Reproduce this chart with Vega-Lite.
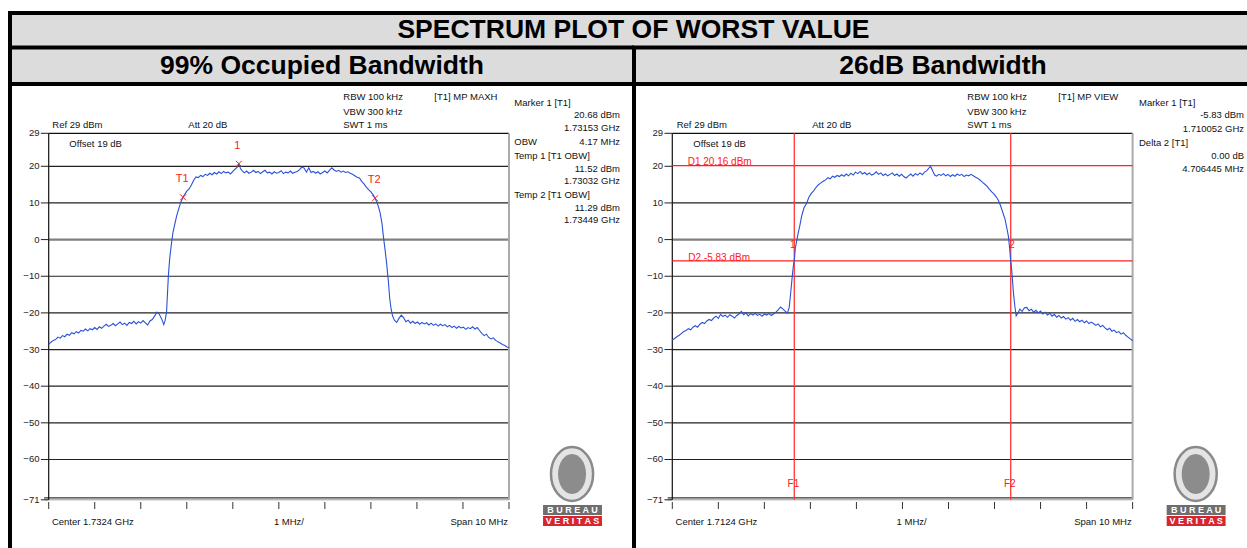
{
"$schema":"https://vega.github.io/schema/vega-lite/v6.json",
"padding":0,
"background":"white",
"spacing":0,
"bounds":"flush",
"config":{"view":{"stroke":null},"axis":{"disable":true},"legend":{"disable":true},"font":"Liberation Sans","text":{"font":"Liberation Sans","fontSize":9.5}},
"datasets":{
"title":[{"t":"SPECTRUM PLOT OF WORST VALUE"}],
"hdrL":[{"t":"99% Occupied Bandwidth"}],
"hdrR":[{"t":"26dB Bandwidth"}],
"hb":[{"v":61.82},{"v":52.41},{"v":42.45}],
"grid":[{"v":20},{"v":10},{"v":-10},{"v":-20},{"v":-30},{"v":-40},{"v":-50},{"v":-60}],
"gridR":[{"v":10},{"v":-10},{"v":-20},{"v":-30},{"v":-40},{"v":-50},{"v":-60}],
"ylab":[{"v":29},{"v":20},{"v":10},{"v":0},{"v":-10},{"v":-20},{"v":-30},{"v":-40},{"v":-50},{"v":-60},{"v":-71}],
"xt":[{"f":0},{"f":1},{"f":2},{"f":3},{"f":4},{"f":5},{"f":6},{"f":7},{"f":8},{"f":9},{"f":10}],
"trL":[{"f":0,"v":-28.6},{"f":0.05,"v":-28.0},{"f":0.1,"v":-27.5},{"f":0.15,"v":-27.3},{"f":0.2,"v":-26.6},{"f":0.25,"v":-26.9},{"f":0.3,"v":-26.2},{"f":0.35,"v":-26.5},{"f":0.4,"v":-25.8},{"f":0.45,"v":-26.1},{"f":0.5,"v":-25.4},{"f":0.55,"v":-25.7},{"f":0.6,"v":-25.1},{"f":0.65,"v":-25.5},{"f":0.7,"v":-24.8},{"f":0.75,"v":-25.0},{"f":0.8,"v":-24.4},{"f":0.85,"v":-24.9},{"f":0.9,"v":-24.3},{"f":0.95,"v":-24.6},{"f":1.0,"v":-24.0},{"f":1.05,"v":-24.5},{"f":1.1,"v":-23.8},{"f":1.15,"v":-24.2},{"f":1.2,"v":-23.6},{"f":1.25,"v":-23.1},{"f":1.3,"v":-23.7},{"f":1.35,"v":-23.4},{"f":1.4,"v":-22.9},{"f":1.45,"v":-23.5},{"f":1.5,"v":-23.0},{"f":1.55,"v":-22.5},{"f":1.6,"v":-23.2},{"f":1.65,"v":-22.8},{"f":1.7,"v":-23.4},{"f":1.75,"v":-22.6},{"f":1.8,"v":-22.9},{"f":1.85,"v":-22.3},{"f":1.9,"v":-23.0},{"f":1.95,"v":-22.4},{"f":2.0,"v":-22.8},{"f":2.05,"v":-22.1},{"f":2.1,"v":-22.7},{"f":2.15,"v":-23.3},{"f":2.2,"v":-22.2},{"f":2.25,"v":-21.8},{"f":2.3,"v":-20.9},{"f":2.35,"v":-19.8},{"f":2.4,"v":-20.3},{"f":2.45,"v":-21.5},{"f":2.5,"v":-23.2},{"f":2.53,"v":-22.0},{"f":2.56,"v":-19.8},{"f":2.6,"v":-9.9},{"f":2.63,"v":-5.0},{"f":2.67,"v":-0.8},{"f":2.7,"v":2.0},{"f":2.74,"v":4.2},{"f":2.78,"v":6.5},{"f":2.82,"v":8.2},{"f":2.87,"v":10.2},{"f":2.92,"v":11.6},{"f":2.96,"v":12.4},{"f":3.0,"v":13.2},{"f":3.05,"v":13.8},{"f":3.1,"v":14.9},{"f":3.15,"v":16.2},{"f":3.2,"v":17.1},{"f":3.25,"v":16.9},{"f":3.3,"v":17.5},{"f":3.35,"v":17.2},{"f":3.4,"v":17.8},{"f":3.45,"v":17.5},{"f":3.5,"v":18.1},{"f":3.55,"v":17.7},{"f":3.6,"v":18.3},{"f":3.65,"v":17.9},{"f":3.7,"v":18.5},{"f":3.75,"v":18.0},{"f":3.8,"v":18.6},{"f":3.85,"v":18.2},{"f":3.9,"v":18.4},{"f":3.95,"v":17.9},{"f":4.0,"v":18.6},{"f":4.05,"v":19.2},{"f":4.1,"v":19.8},{"f":4.13,"v":20.7},{"f":4.17,"v":19.3},{"f":4.2,"v":18.8},{"f":4.25,"v":18.2},{"f":4.3,"v":18.7},{"f":4.35,"v":18.1},{"f":4.4,"v":18.4},{"f":4.45,"v":18.9},{"f":4.5,"v":18.3},{"f":4.55,"v":18.6},{"f":4.6,"v":18.0},{"f":4.65,"v":18.5},{"f":4.7,"v":18.9},{"f":4.75,"v":18.2},{"f":4.8,"v":18.4},{"f":4.85,"v":17.9},{"f":4.9,"v":18.5},{"f":4.95,"v":18.1},{"f":5.0,"v":18.3},{"f":5.05,"v":18.8},{"f":5.1,"v":18.0},{"f":5.15,"v":18.4},{"f":5.2,"v":18.2},{"f":5.25,"v":18.7},{"f":5.3,"v":18.1},{"f":5.35,"v":18.4},{"f":5.4,"v":18.6},{"f":5.45,"v":19.1},{"f":5.5,"v":19.8},{"f":5.55,"v":19.5},{"f":5.6,"v":18.4},{"f":5.65,"v":19.6},{"f":5.7,"v":18.3},{"f":5.75,"v":18.6},{"f":5.8,"v":18.1},{"f":5.85,"v":18.5},{"f":5.9,"v":17.9},{"f":5.95,"v":18.3},{"f":6.0,"v":18.7},{"f":6.05,"v":18.2},{"f":6.1,"v":18.9},{"f":6.15,"v":19.6},{"f":6.2,"v":19.0},{"f":6.25,"v":18.6},{"f":6.3,"v":18.9},{"f":6.35,"v":18.4},{"f":6.4,"v":18.7},{"f":6.45,"v":18.3},{"f":6.5,"v":18.5},{"f":6.55,"v":18.1},{"f":6.6,"v":17.8},{"f":6.65,"v":17.4},{"f":6.7,"v":17.0},{"f":6.75,"v":16.8},{"f":6.8,"v":15.9},{"f":6.85,"v":15.2},{"f":6.9,"v":14.3},{"f":6.95,"v":13.6},{"f":7.0,"v":13.0},{"f":7.05,"v":12.2},{"f":7.09,"v":11.3},{"f":7.13,"v":10.2},{"f":7.17,"v":8.7},{"f":7.2,"v":7.3},{"f":7.24,"v":4.5},{"f":7.27,"v":1.0},{"f":7.31,"v":-3.0},{"f":7.34,"v":-6.3},{"f":7.38,"v":-11.5},{"f":7.41,"v":-16.2},{"f":7.44,"v":-19.0},{"f":7.47,"v":-20.8},{"f":7.51,"v":-22.0},{"f":7.56,"v":-22.6},{"f":7.61,"v":-21.5},{"f":7.66,"v":-20.6},{"f":7.71,"v":-21.3},{"f":7.76,"v":-22.4},{"f":7.81,"v":-22.0},{"f":7.86,"v":-22.8},{"f":7.91,"v":-22.3},{"f":7.96,"v":-22.9},{"f":8.01,"v":-22.5},{"f":8.06,"v":-23.1},{"f":8.11,"v":-22.6},{"f":8.16,"v":-23.0},{"f":8.21,"v":-22.7},{"f":8.26,"v":-23.3},{"f":8.31,"v":-22.8},{"f":8.36,"v":-23.4},{"f":8.41,"v":-23.0},{"f":8.46,"v":-23.6},{"f":8.51,"v":-23.1},{"f":8.56,"v":-23.5},{"f":8.61,"v":-23.2},{"f":8.66,"v":-23.8},{"f":8.71,"v":-23.4},{"f":8.76,"v":-24.0},{"f":8.81,"v":-23.6},{"f":8.86,"v":-24.2},{"f":8.91,"v":-23.7},{"f":8.96,"v":-24.1},{"f":9.01,"v":-23.9},{"f":9.06,"v":-24.5},{"f":9.11,"v":-24.0},{"f":9.16,"v":-24.3},{"f":9.21,"v":-23.8},{"f":9.26,"v":-24.4},{"f":9.31,"v":-24.0},{"f":9.36,"v":-24.8},{"f":9.41,"v":-25.6},{"f":9.46,"v":-26.2},{"f":9.51,"v":-25.8},{"f":9.56,"v":-26.7},{"f":9.61,"v":-27.1},{"f":9.66,"v":-26.8},{"f":9.71,"v":-27.5},{"f":9.76,"v":-27.9},{"f":9.81,"v":-28.2},{"f":9.86,"v":-28.6},{"f":9.91,"v":-28.9},{"f":9.96,"v":-29.3},{"f":10.0,"v":-29.5}],
"trR":[{"f":0,"v":-27.4},{"f":0.05,"v":-27.0},{"f":0.1,"v":-26.5},{"f":0.15,"v":-26.1},{"f":0.2,"v":-25.6},{"f":0.25,"v":-25.1},{"f":0.3,"v":-24.8},{"f":0.35,"v":-24.3},{"f":0.4,"v":-24.6},{"f":0.45,"v":-23.9},{"f":0.5,"v":-23.5},{"f":0.55,"v":-23.9},{"f":0.6,"v":-23.1},{"f":0.65,"v":-22.6},{"f":0.7,"v":-22.9},{"f":0.75,"v":-22.2},{"f":0.8,"v":-21.8},{"f":0.85,"v":-22.1},{"f":0.9,"v":-21.4},{"f":0.95,"v":-20.9},{"f":1.0,"v":-21.5},{"f":1.05,"v":-20.4},{"f":1.1,"v":-21.0},{"f":1.15,"v":-20.6},{"f":1.2,"v":-21.2},{"f":1.25,"v":-20.5},{"f":1.3,"v":-20.9},{"f":1.35,"v":-21.4},{"f":1.4,"v":-20.7},{"f":1.45,"v":-20.3},{"f":1.5,"v":-19.6},{"f":1.55,"v":-20.5},{"f":1.6,"v":-20.0},{"f":1.65,"v":-20.8},{"f":1.7,"v":-20.2},{"f":1.75,"v":-20.6},{"f":1.8,"v":-20.1},{"f":1.85,"v":-20.7},{"f":1.9,"v":-20.4},{"f":1.95,"v":-20.9},{"f":2.0,"v":-20.3},{"f":2.05,"v":-20.6},{"f":2.1,"v":-20.2},{"f":2.15,"v":-20.7},{"f":2.2,"v":-20.3},{"f":2.25,"v":-19.8},{"f":2.3,"v":-19.2},{"f":2.35,"v":-18.4},{"f":2.4,"v":-18.9},{"f":2.45,"v":-19.5},{"f":2.5,"v":-20.1},{"f":2.54,"v":-18.5},{"f":2.58,"v":-13.5},{"f":2.61,"v":-9.5},{"f":2.63,"v":-7.2},{"f":2.65,"v":-5.8},{"f":2.67,"v":-2.6},{"f":2.7,"v":-0.5},{"f":2.73,"v":1.5},{"f":2.77,"v":3.8},{"f":2.81,"v":6.4},{"f":2.86,"v":8.6},{"f":2.92,"v":10.0},{"f":2.97,"v":11.6},{"f":3.02,"v":12.6},{"f":3.07,"v":13.3},{"f":3.12,"v":14.2},{"f":3.17,"v":14.9},{"f":3.22,"v":15.4},{"f":3.28,"v":15.9},{"f":3.33,"v":16.3},{"f":3.38,"v":16.9},{"f":3.43,"v":16.6},{"f":3.48,"v":17.3},{"f":3.53,"v":17.0},{"f":3.58,"v":17.5},{"f":3.63,"v":17.2},{"f":3.68,"v":17.7},{"f":3.73,"v":17.3},{"f":3.78,"v":17.9},{"f":3.83,"v":17.4},{"f":3.88,"v":18.1},{"f":3.93,"v":17.6},{"f":3.98,"v":18.4},{"f":4.03,"v":18.0},{"f":4.08,"v":18.6},{"f":4.13,"v":17.9},{"f":4.18,"v":18.3},{"f":4.23,"v":17.7},{"f":4.28,"v":18.2},{"f":4.33,"v":17.6},{"f":4.38,"v":17.9},{"f":4.43,"v":18.5},{"f":4.48,"v":17.8},{"f":4.53,"v":18.2},{"f":4.58,"v":17.5},{"f":4.63,"v":17.9},{"f":4.68,"v":17.4},{"f":4.73,"v":17.8},{"f":4.78,"v":18.2},{"f":4.83,"v":17.5},{"f":4.88,"v":17.9},{"f":4.93,"v":17.3},{"f":4.98,"v":17.8},{"f":5.03,"v":17.2},{"f":5.08,"v":16.8},{"f":5.13,"v":17.4},{"f":5.18,"v":17.9},{"f":5.23,"v":17.3},{"f":5.28,"v":18.0},{"f":5.33,"v":17.6},{"f":5.38,"v":18.2},{"f":5.43,"v":17.7},{"f":5.48,"v":18.4},{"f":5.53,"v":18.8},{"f":5.58,"v":19.6},{"f":5.61,"v":20.0},{"f":5.65,"v":18.9},{"f":5.7,"v":17.6},{"f":5.74,"v":17.3},{"f":5.79,"v":17.8},{"f":5.84,"v":17.5},{"f":5.89,"v":18.0},{"f":5.94,"v":17.4},{"f":5.99,"v":17.8},{"f":6.04,"v":17.2},{"f":6.09,"v":17.7},{"f":6.14,"v":17.3},{"f":6.19,"v":17.9},{"f":6.24,"v":17.5},{"f":6.29,"v":17.8},{"f":6.34,"v":17.2},{"f":6.39,"v":17.6},{"f":6.44,"v":17.4},{"f":6.49,"v":17.8},{"f":6.54,"v":17.4},{"f":6.59,"v":17.0},{"f":6.64,"v":16.7},{"f":6.69,"v":16.2},{"f":6.74,"v":15.6},{"f":6.79,"v":15.1},{"f":6.84,"v":14.5},{"f":6.89,"v":13.7},{"f":6.94,"v":13.0},{"f":6.99,"v":12.4},{"f":7.04,"v":11.6},{"f":7.08,"v":10.8},{"f":7.13,"v":9.3},{"f":7.18,"v":7.4},{"f":7.23,"v":5.5},{"f":7.27,"v":3.0},{"f":7.3,"v":1.0},{"f":7.33,"v":-2.5},{"f":7.35,"v":-5.8},{"f":7.37,"v":-7.8},{"f":7.39,"v":-11.0},{"f":7.41,"v":-14.4},{"f":7.44,"v":-18.0},{"f":7.47,"v":-20.8},{"f":7.51,"v":-20.0},{"f":7.55,"v":-19.0},{"f":7.6,"v":-19.6},{"f":7.65,"v":-18.6},{"f":7.7,"v":-18.5},{"f":7.75,"v":-19.4},{"f":7.8,"v":-19.0},{"f":7.85,"v":-19.8},{"f":7.9,"v":-19.3},{"f":7.95,"v":-20.0},{"f":8.0,"v":-19.5},{"f":8.05,"v":-20.3},{"f":8.1,"v":-19.8},{"f":8.15,"v":-20.6},{"f":8.2,"v":-20.1},{"f":8.25,"v":-20.9},{"f":8.3,"v":-20.4},{"f":8.35,"v":-21.2},{"f":8.4,"v":-20.7},{"f":8.45,"v":-21.4},{"f":8.5,"v":-21.0},{"f":8.55,"v":-21.7},{"f":8.6,"v":-21.3},{"f":8.65,"v":-22.0},{"f":8.7,"v":-21.5},{"f":8.75,"v":-22.3},{"f":8.8,"v":-21.8},{"f":8.85,"v":-22.4},{"f":8.9,"v":-22.0},{"f":8.95,"v":-22.7},{"f":9.0,"v":-22.2},{"f":9.05,"v":-22.9},{"f":9.1,"v":-22.5},{"f":9.15,"v":-22.9},{"f":9.2,"v":-23.4},{"f":9.25,"v":-23.0},{"f":9.3,"v":-23.8},{"f":9.35,"v":-23.4},{"f":9.4,"v":-24.1},{"f":9.45,"v":-24.6},{"f":9.5,"v":-24.2},{"f":9.55,"v":-25.0},{"f":9.6,"v":-24.7},{"f":9.65,"v":-25.4},{"f":9.7,"v":-25.1},{"f":9.75,"v":-25.8},{"f":9.8,"v":-25.4},{"f":9.85,"v":-26.1},{"f":9.9,"v":-26.6},{"f":9.95,"v":-27.1},{"f":10.0,"v":-27.6}],
"annLl":[{"f":0.078,"v":31.2,"t":"Ref 29 dBm"},{"f":3.033,"v":31.2,"t":"Att  20 dB"},{"f":0.448,"v":26.0,"t":"Offset 19 dB"},{"f":6.40,"v":38.82,"t":"RBW 100 kHz"},{"f":6.40,"v":34.89,"t":"VBW 300 kHz"},{"f":6.40,"v":31.2,"t":"SWT 1 ms"},{"f":8.377,"v":38.82,"t":"[T1] MP MAXH"},{"f":10.115,"v":37.19,"t":"Marker 1 [T1]"},{"f":10.115,"v":26.54,"t":"OBW"},{"f":10.115,"v":22.81,"t":"Temp 1 [T1 OBW]"},{"f":10.115,"v":12.17,"t":"Temp 2 [T1 OBW]"},{"f":0.07,"v":-76.98,"t":"Center 1.7324 GHz"}],
"annLr":[{"f":12.412,"v":34.0,"t":"20.68 dBm"},{"f":12.412,"v":30.36,"t":"1.73153 GHz"},{"f":12.412,"v":26.54,"t":"4.17 MHz"},{"f":12.412,"v":19.34,"t":"11.52 dBm"},{"f":12.412,"v":15.99,"t":"1.73032 GHz"},{"f":12.412,"v":8.70,"t":"11.29 dBm"},{"f":12.412,"v":5.34,"t":"1.73449 GHz"},{"f":9.98,"v":-76.98,"t":"Span 10 MHz"}],
"annLc":[{"f":5.22,"v":-76.98,"t":"1 MHz/"}],
"redL":[{"f":4.097,"v":25.6,"t":"1"},{"f":2.90,"v":16.5,"t":"T1"},{"f":7.07,"v":16.26,"t":"T2"}],
"mkL":[{"f":4.13,"v":20.68},{"f":2.92,"v":11.52},{"f":7.09,"v":11.29}],
"annRl":[{"f":0.096,"v":31.2,"t":"Ref 29 dBm"},{"f":3.041,"v":31.2,"t":"Att  20 dB"},{"f":0.456,"v":26.0,"t":"Offset 19 dB"},{"f":6.409,"v":38.82,"t":"RBW 100 kHz"},{"f":6.409,"v":34.89,"t":"VBW 300 kHz"},{"f":6.409,"v":31.2,"t":"SWT 1 ms"},{"f":8.386,"v":38.82,"t":"[T1] MP VIEW"},{"f":10.139,"v":37.19,"t":"Marker 1 [T1]"},{"f":10.139,"v":26.27,"t":"Delta 2 [T1]"},{"f":0.07,"v":-76.98,"t":"Center 1.7124 GHz"}],
"annRr":[{"f":12.42,"v":34.0,"t":"-5.83 dBm"},{"f":12.42,"v":30.17,"t":"1.710052 GHz"},{"f":12.42,"v":22.81,"t":"0.00 dB"},{"f":12.42,"v":19.18,"t":"4.706445 MHz"},{"f":9.98,"v":-76.98,"t":"Span 10 MHz"}],
"annRc":[{"f":5.2,"v":-76.98,"t":"1 MHz/"}],
"redRl":[{"f":0.335,"v":21.25,"t":"D1 20.16 dBm"},{"f":0.348,"v":-4.94,"t":"D2 -5.83 dBm"}],
"redRc":[{"f":2.63,"v":-66.7,"t":"F1"},{"f":7.33,"v":-66.7,"t":"F2"},{"f":2.62,"v":-1.6,"t":"1"},{"f":7.38,"v":-1.6,"t":"2"}],
"refH":[{"v":20.16},{"v":-5.83}],
"refV":[{"f":2.65},{"f":7.352}],
"logo":[{"f":11.37,"v":-63.96}],
"logoB":[{"t":"B U R E A U"}],
"logoV":[{"t":"V E R I T A S"}]
},
"hconcat":[
 {"width":634,"height":548,
  "layer":[
   {"data":{"name":"hdrL"},"mark":{"type":"rect","color":"#dcdcdc"},"encoding":{"x":{"datum":-0.8408,"type":"quantitative","scale":{"domain":[-1.058,12.716],"nice":false,"zero":false}},"x2":{"datum":12.716},"y":{"datum":42.45,"type":"quantitative","scale":{"domain":[-84.15,65.37],"nice":false,"zero":false}},"y2":{"datum":61.82}}},
   {"data":{"name":"hdrL"},"mark":{"type":"text","align":"center","baseline":"middle","fontWeight":"bold","fontSize":26.5,"color":"#000"},"encoding":{"x":{"datum":5.937,"type":"quantitative","scale":{"domain":[-1.058,12.716],"nice":false,"zero":false}},"y":{"datum":47.36,"type":"quantitative","scale":{"domain":[-84.15,65.37],"nice":false,"zero":false}},"text":{"field":"t"}}},
   {"data":{"name":"hb"},"mark":{"type":"rule","color":"#000","strokeWidth":4,"strokeCap":"square"},"encoding":{"x":{"datum":-0.8408,"type":"quantitative","scale":{"domain":[-1.058,12.716],"nice":false,"zero":false}},"x2":{"datum":12.716},"y":{"field":"v","type":"quantitative","scale":{"domain":[-84.15,65.37],"nice":false,"zero":false}}}},
   {"data":{"values":[{"f":-0.8408}]},"mark":{"type":"rule","color":"#000","strokeWidth":4},"encoding":{"x":{"field":"f","type":"quantitative","scale":{"domain":[-1.058,12.716],"nice":false,"zero":false}},"y":{"datum":61.82,"type":"quantitative","scale":{"domain":[-84.15,65.37],"nice":false,"zero":false}},"y2":{"datum":-84.15}}},
   {"data":{"name":"grid"},"mark":{"type":"rule","color":"#222","strokeWidth":1.2},"encoding":{"x":{"datum":0,"type":"quantitative","scale":{"domain":[-1.058,12.716],"nice":false,"zero":false}},"x2":{"datum":10},"y":{"field":"v","type":"quantitative","scale":{"domain":[-84.15,65.37],"nice":false,"zero":false}}}},
   {"data":{"values":[{"v":0}]},"mark":{"type":"rule","color":"#808080","strokeWidth":2.4},"encoding":{"x":{"datum":0,"type":"quantitative","scale":{"domain":[-1.058,12.716],"nice":false,"zero":false}},"x2":{"datum":10},"y":{"field":"v","type":"quantitative","scale":{"domain":[-84.15,65.37],"nice":false,"zero":false}}}},
   {"data":{"values":[{"v":29}]},"mark":{"type":"rule","color":"#111","strokeWidth":1.2},"encoding":{"x":{"datum":0,"type":"quantitative","scale":{"domain":[-1.058,12.716],"nice":false,"zero":false}},"x2":{"datum":10},"y":{"field":"v","type":"quantitative","scale":{"domain":[-84.15,65.37],"nice":false,"zero":false}}}},
   {"data":{"values":[{"v":-70.45}]},"mark":{"type":"rule","color":"#333","strokeWidth":1.2},"encoding":{"x":{"datum":-0.1,"type":"quantitative","scale":{"domain":[-1.058,12.716],"nice":false,"zero":false}},"x2":{"datum":10},"y":{"field":"v","type":"quantitative","scale":{"domain":[-84.15,65.37],"nice":false,"zero":false}}}},
   {"data":{"values":[{"v":-71}]},"mark":{"type":"rule","color":"#999","strokeWidth":1},"encoding":{"x":{"datum":-0.1,"type":"quantitative","scale":{"domain":[-1.058,12.716],"nice":false,"zero":false}},"x2":{"datum":10},"y":{"field":"v","type":"quantitative","scale":{"domain":[-84.15,65.37],"nice":false,"zero":false}}}},
   {"data":{"values":[{"f":0}]},"mark":{"type":"rule","color":"#111","strokeWidth":1.2},"encoding":{"x":{"field":"f","type":"quantitative","scale":{"domain":[-1.058,12.716],"nice":false,"zero":false}},"y":{"datum":-71,"type":"quantitative","scale":{"domain":[-84.15,65.37],"nice":false,"zero":false}},"y2":{"datum":29}}},
   {"data":{"values":[{"f":10}]},"mark":{"type":"rule","color":"#aaa","strokeWidth":2},"encoding":{"x":{"field":"f","type":"quantitative","scale":{"domain":[-1.058,12.716],"nice":false,"zero":false}},"y":{"datum":-71,"type":"quantitative","scale":{"domain":[-84.15,65.37],"nice":false,"zero":false}},"y2":{"datum":29}}},
   {"data":{"name":"ylab"},"mark":{"type":"rule","color":"#222","strokeWidth":1},"encoding":{"x":{"datum":-0.17,"type":"quantitative","scale":{"domain":[-1.058,12.716],"nice":false,"zero":false}},"x2":{"datum":0},"y":{"field":"v","type":"quantitative","scale":{"domain":[-84.15,65.37],"nice":false,"zero":false}}}},
   {"data":{"name":"ylab"},"mark":{"type":"text","align":"right","baseline":"middle","color":"#222"},"encoding":{"x":{"datum":-0.2,"type":"quantitative","scale":{"domain":[-1.058,12.716],"nice":false,"zero":false}},"y":{"field":"v","type":"quantitative","scale":{"domain":[-84.15,65.37],"nice":false,"zero":false}},"text":{"field":"v","type":"quantitative","format":"d"}}},
   {"data":{"name":"xt"},"mark":{"type":"rule","color":"#333","strokeWidth":1},"encoding":{"x":{"field":"f","type":"quantitative","scale":{"domain":[-1.058,12.716],"nice":false,"zero":false}},"y":{"datum":-71.6,"type":"quantitative","scale":{"domain":[-84.15,65.37],"nice":false,"zero":false}},"y2":{"datum":-73.5}}},
   {"data":{"name":"trL"},"mark":{"type":"line","color":"#2a52d8","strokeWidth":1.1},"encoding":{"x":{"field":"f","type":"quantitative","scale":{"domain":[-1.058,12.716],"nice":false,"zero":false}},"y":{"field":"v","type":"quantitative","scale":{"domain":[-84.15,65.37],"nice":false,"zero":false}}}},
   {"data":{"name":"mkL"},"mark":{"type":"point","shape":"M-1,-1L1,1M-1,1L1,-1","filled":false,"color":"#ff2020","size":36,"strokeWidth":1,"opacity":1},"encoding":{"x":{"field":"f","type":"quantitative","scale":{"domain":[-1.058,12.716],"nice":false,"zero":false}},"y":{"field":"v","type":"quantitative","scale":{"domain":[-84.15,65.37],"nice":false,"zero":false}}}},
   {"data":{"name":"redL"},"mark":{"type":"text","align":"center","baseline":"middle","color":"#ff2020","fontSize":11},"encoding":{"x":{"field":"f","type":"quantitative","scale":{"domain":[-1.058,12.716],"nice":false,"zero":false}},"y":{"field":"v","type":"quantitative","scale":{"domain":[-84.15,65.37],"nice":false,"zero":false}},"text":{"field":"t"}}},
   {"data":{"name":"annLl"},"mark":{"type":"text","align":"left","baseline":"middle","color":"#111"},"encoding":{"x":{"field":"f","type":"quantitative","scale":{"domain":[-1.058,12.716],"nice":false,"zero":false}},"y":{"field":"v","type":"quantitative","scale":{"domain":[-84.15,65.37],"nice":false,"zero":false}},"text":{"field":"t"}}},
   {"data":{"name":"annLr"},"mark":{"type":"text","align":"right","baseline":"middle","color":"#111"},"encoding":{"x":{"field":"f","type":"quantitative","scale":{"domain":[-1.058,12.716],"nice":false,"zero":false}},"y":{"field":"v","type":"quantitative","scale":{"domain":[-84.15,65.37],"nice":false,"zero":false}},"text":{"field":"t"}}},
   {"data":{"name":"annLc"},"mark":{"type":"text","align":"center","baseline":"middle","color":"#111"},"encoding":{"x":{"field":"f","type":"quantitative","scale":{"domain":[-1.058,12.716],"nice":false,"zero":false}},"y":{"field":"v","type":"quantitative","scale":{"domain":[-84.15,65.37],"nice":false,"zero":false}},"text":{"field":"t"}}},
   {"data":{"name":"logo"},"mark":{"type":"point","shape":"M0,-1A0.78,1 0 1,1 0,1A0.78,1 0 1,1 0,-1Z","filled":true,"color":"#e4e4e4","stroke":"#8a8a8a","strokeWidth":2.5,"size":2916,"opacity":1},"encoding":{"x":{"field":"f","type":"quantitative","scale":{"domain":[-1.058,12.716],"nice":false,"zero":false}},"y":{"field":"v","type":"quantitative","scale":{"domain":[-84.15,65.37],"nice":false,"zero":false}}}},
   {"data":{"name":"logo"},"mark":{"type":"point","shape":"M0,-1A0.7,1 0 1,1 0,1A0.7,1 0 1,1 0,-1Z","filled":true,"color":"#8c8c8c","size":1600,"opacity":1},"encoding":{"x":{"field":"f","type":"quantitative","scale":{"domain":[-1.058,12.716],"nice":false,"zero":false}},"y":{"field":"v","type":"quantitative","scale":{"domain":[-84.15,65.37],"nice":false,"zero":false}}}},
   {"data":{"name":"logoB"},"mark":{"type":"rect","color":"#6e6e6e"},"encoding":{"x":{"datum":10.74,"type":"quantitative","scale":{"domain":[-1.058,12.716],"nice":false,"zero":false}},"x2":{"datum":12.02},"y":{"datum":-72.42,"type":"quantitative","scale":{"domain":[-84.15,65.37],"nice":false,"zero":false}},"y2":{"datum":-75.15}}},
   {"data":{"name":"logoV"},"mark":{"type":"rect","color":"#d7262e"},"encoding":{"x":{"datum":10.74,"type":"quantitative","scale":{"domain":[-1.058,12.716],"nice":false,"zero":false}},"x2":{"datum":12.02},"y":{"datum":-75.42,"type":"quantitative","scale":{"domain":[-84.15,65.37],"nice":false,"zero":false}},"y2":{"datum":-78.15}}},
   {"data":{"name":"logoB"},"mark":{"type":"text","align":"center","baseline":"middle","color":"white","fontWeight":"bold","fontSize":9},"encoding":{"x":{"datum":11.38,"type":"quantitative","scale":{"domain":[-1.058,12.716],"nice":false,"zero":false}},"y":{"datum":-73.8,"type":"quantitative","scale":{"domain":[-84.15,65.37],"nice":false,"zero":false}},"text":{"field":"t"}}},
   {"data":{"name":"logoV"},"mark":{"type":"text","align":"center","baseline":"middle","color":"white","fontWeight":"bold","fontSize":9},"encoding":{"x":{"datum":11.38,"type":"quantitative","scale":{"domain":[-1.058,12.716],"nice":false,"zero":false}},"y":{"datum":-76.8,"type":"quantitative","scale":{"domain":[-84.15,65.37],"nice":false,"zero":false}},"text":{"field":"t"}}}
  ]},
 {"width":613,"height":548,
  "layer":[
   {"data":{"name":"hdrR"},"mark":{"type":"rect","color":"#dcdcdc"},"encoding":{"x":{"datum":-0.832,"type":"quantitative","scale":{"domain":[-0.832,12.485],"nice":false,"zero":false}},"x2":{"datum":12.485},"y":{"datum":42.45,"type":"quantitative","scale":{"domain":[-84.15,65.37],"nice":false,"zero":false}},"y2":{"datum":61.82}}},
   {"data":{"name":"title"},"mark":{"type":"text","align":"center","baseline":"middle","fontWeight":"bold","fontSize":26.5,"color":"#000"},"encoding":{"x":{"datum":-0.843,"type":"quantitative","scale":{"domain":[-0.832,12.485],"nice":false,"zero":false}},"y":{"datum":57.05,"type":"quantitative","scale":{"domain":[-84.15,65.37],"nice":false,"zero":false}},"text":{"field":"t"}}},
   {"data":{"name":"hdrR"},"mark":{"type":"text","align":"center","baseline":"middle","fontWeight":"bold","fontSize":26.5,"color":"#000"},"encoding":{"x":{"datum":5.881,"type":"quantitative","scale":{"domain":[-0.832,12.485],"nice":false,"zero":false}},"y":{"datum":47.36,"type":"quantitative","scale":{"domain":[-84.15,65.37],"nice":false,"zero":false}},"text":{"field":"t"}}},
   {"data":{"name":"hb"},"mark":{"type":"rule","color":"#000","strokeWidth":4,"strokeCap":"square"},"encoding":{"x":{"datum":-0.832,"type":"quantitative","scale":{"domain":[-0.832,12.485],"nice":false,"zero":false}},"x2":{"datum":12.485},"y":{"field":"v","type":"quantitative","scale":{"domain":[-84.15,65.37],"nice":false,"zero":false}}}},
   {"data":{"values":[{"f":-0.832}]},"mark":{"type":"rule","color":"#000","strokeWidth":4},"encoding":{"x":{"field":"f","type":"quantitative","scale":{"domain":[-0.832,12.485],"nice":false,"zero":false}},"y":{"datum":52.41,"type":"quantitative","scale":{"domain":[-84.15,65.37],"nice":false,"zero":false}},"y2":{"datum":-84.15}}},
   {"data":{"name":"gridR"},"mark":{"type":"rule","color":"#222","strokeWidth":1.2},"encoding":{"x":{"datum":0,"type":"quantitative","scale":{"domain":[-0.832,12.485],"nice":false,"zero":false}},"x2":{"datum":10},"y":{"field":"v","type":"quantitative","scale":{"domain":[-84.15,65.37],"nice":false,"zero":false}}}},
   {"data":{"values":[{"v":0}]},"mark":{"type":"rule","color":"#808080","strokeWidth":2.4},"encoding":{"x":{"datum":0,"type":"quantitative","scale":{"domain":[-0.832,12.485],"nice":false,"zero":false}},"x2":{"datum":10},"y":{"field":"v","type":"quantitative","scale":{"domain":[-84.15,65.37],"nice":false,"zero":false}}}},
   {"data":{"values":[{"v":29}]},"mark":{"type":"rule","color":"#111","strokeWidth":1.2},"encoding":{"x":{"datum":0,"type":"quantitative","scale":{"domain":[-0.832,12.485],"nice":false,"zero":false}},"x2":{"datum":10},"y":{"field":"v","type":"quantitative","scale":{"domain":[-84.15,65.37],"nice":false,"zero":false}}}},
   {"data":{"values":[{"v":-70.45}]},"mark":{"type":"rule","color":"#333","strokeWidth":1.2},"encoding":{"x":{"datum":-0.1,"type":"quantitative","scale":{"domain":[-0.832,12.485],"nice":false,"zero":false}},"x2":{"datum":10},"y":{"field":"v","type":"quantitative","scale":{"domain":[-84.15,65.37],"nice":false,"zero":false}}}},
   {"data":{"values":[{"v":-71}]},"mark":{"type":"rule","color":"#999","strokeWidth":1},"encoding":{"x":{"datum":-0.1,"type":"quantitative","scale":{"domain":[-0.832,12.485],"nice":false,"zero":false}},"x2":{"datum":10},"y":{"field":"v","type":"quantitative","scale":{"domain":[-84.15,65.37],"nice":false,"zero":false}}}},
   {"data":{"values":[{"f":0}]},"mark":{"type":"rule","color":"#111","strokeWidth":1.2},"encoding":{"x":{"field":"f","type":"quantitative","scale":{"domain":[-0.832,12.485],"nice":false,"zero":false}},"y":{"datum":-71,"type":"quantitative","scale":{"domain":[-84.15,65.37],"nice":false,"zero":false}},"y2":{"datum":29}}},
   {"data":{"values":[{"f":10}]},"mark":{"type":"rule","color":"#aaa","strokeWidth":2},"encoding":{"x":{"field":"f","type":"quantitative","scale":{"domain":[-0.832,12.485],"nice":false,"zero":false}},"y":{"datum":-71,"type":"quantitative","scale":{"domain":[-84.15,65.37],"nice":false,"zero":false}},"y2":{"datum":29}}},
   {"data":{"name":"ylab"},"mark":{"type":"rule","color":"#222","strokeWidth":1},"encoding":{"x":{"datum":-0.17,"type":"quantitative","scale":{"domain":[-0.832,12.485],"nice":false,"zero":false}},"x2":{"datum":0},"y":{"field":"v","type":"quantitative","scale":{"domain":[-84.15,65.37],"nice":false,"zero":false}}}},
   {"data":{"name":"ylab"},"mark":{"type":"text","align":"right","baseline":"middle","color":"#222"},"encoding":{"x":{"datum":-0.2,"type":"quantitative","scale":{"domain":[-0.832,12.485],"nice":false,"zero":false}},"y":{"field":"v","type":"quantitative","scale":{"domain":[-84.15,65.37],"nice":false,"zero":false}},"text":{"field":"v","type":"quantitative","format":"d"}}},
   {"data":{"name":"xt"},"mark":{"type":"rule","color":"#333","strokeWidth":1},"encoding":{"x":{"field":"f","type":"quantitative","scale":{"domain":[-0.832,12.485],"nice":false,"zero":false}},"y":{"datum":-71.6,"type":"quantitative","scale":{"domain":[-84.15,65.37],"nice":false,"zero":false}},"y2":{"datum":-73.5}}},
   {"data":{"name":"refH"},"mark":{"type":"rule","color":"#ff2020","strokeWidth":1.2},"encoding":{"x":{"datum":0,"type":"quantitative","scale":{"domain":[-0.832,12.485],"nice":false,"zero":false}},"x2":{"datum":10},"y":{"field":"v","type":"quantitative","scale":{"domain":[-84.15,65.37],"nice":false,"zero":false}}}},
   {"data":{"name":"refV"},"mark":{"type":"rule","color":"#ff3535","strokeWidth":1.3},"encoding":{"x":{"field":"f","type":"quantitative","scale":{"domain":[-0.832,12.485],"nice":false,"zero":false}},"y":{"datum":-71,"type":"quantitative","scale":{"domain":[-84.15,65.37],"nice":false,"zero":false}},"y2":{"datum":29}}},
   {"data":{"name":"trR"},"mark":{"type":"line","color":"#2a52d8","strokeWidth":1.1},"encoding":{"x":{"field":"f","type":"quantitative","scale":{"domain":[-0.832,12.485],"nice":false,"zero":false}},"y":{"field":"v","type":"quantitative","scale":{"domain":[-84.15,65.37],"nice":false,"zero":false}}}},
   {"data":{"name":"redRl"},"mark":{"type":"text","align":"left","baseline":"middle","color":"#ff2020","fontSize":10},"encoding":{"x":{"field":"f","type":"quantitative","scale":{"domain":[-0.832,12.485],"nice":false,"zero":false}},"y":{"field":"v","type":"quantitative","scale":{"domain":[-84.15,65.37],"nice":false,"zero":false}},"text":{"field":"t"}}},
   {"data":{"name":"redRc"},"mark":{"type":"text","align":"center","baseline":"middle","color":"#ff2020","fontSize":10},"encoding":{"x":{"field":"f","type":"quantitative","scale":{"domain":[-0.832,12.485],"nice":false,"zero":false}},"y":{"field":"v","type":"quantitative","scale":{"domain":[-84.15,65.37],"nice":false,"zero":false}},"text":{"field":"t"}}},
   {"data":{"name":"annRl"},"mark":{"type":"text","align":"left","baseline":"middle","color":"#111"},"encoding":{"x":{"field":"f","type":"quantitative","scale":{"domain":[-0.832,12.485],"nice":false,"zero":false}},"y":{"field":"v","type":"quantitative","scale":{"domain":[-84.15,65.37],"nice":false,"zero":false}},"text":{"field":"t"}}},
   {"data":{"name":"annRr"},"mark":{"type":"text","align":"right","baseline":"middle","color":"#111"},"encoding":{"x":{"field":"f","type":"quantitative","scale":{"domain":[-0.832,12.485],"nice":false,"zero":false}},"y":{"field":"v","type":"quantitative","scale":{"domain":[-84.15,65.37],"nice":false,"zero":false}},"text":{"field":"t"}}},
   {"data":{"name":"annRc"},"mark":{"type":"text","align":"center","baseline":"middle","color":"#111"},"encoding":{"x":{"field":"f","type":"quantitative","scale":{"domain":[-0.832,12.485],"nice":false,"zero":false}},"y":{"field":"v","type":"quantitative","scale":{"domain":[-84.15,65.37],"nice":false,"zero":false}},"text":{"field":"t"}}},
   {"data":{"name":"logo"},"mark":{"type":"point","shape":"M0,-1A0.78,1 0 1,1 0,1A0.78,1 0 1,1 0,-1Z","filled":true,"color":"#e4e4e4","stroke":"#8a8a8a","strokeWidth":2.5,"size":2916,"opacity":1},"encoding":{"x":{"field":"f","type":"quantitative","scale":{"domain":[-0.832,12.485],"nice":false,"zero":false}},"y":{"field":"v","type":"quantitative","scale":{"domain":[-84.15,65.37],"nice":false,"zero":false}}}},
   {"data":{"name":"logo"},"mark":{"type":"point","shape":"M0,-1A0.7,1 0 1,1 0,1A0.7,1 0 1,1 0,-1Z","filled":true,"color":"#8c8c8c","size":1600,"opacity":1},"encoding":{"x":{"field":"f","type":"quantitative","scale":{"domain":[-0.832,12.485],"nice":false,"zero":false}},"y":{"field":"v","type":"quantitative","scale":{"domain":[-84.15,65.37],"nice":false,"zero":false}}}},
   {"data":{"name":"logoB"},"mark":{"type":"rect","color":"#6e6e6e"},"encoding":{"x":{"datum":10.74,"type":"quantitative","scale":{"domain":[-0.832,12.485],"nice":false,"zero":false}},"x2":{"datum":12.02},"y":{"datum":-72.42,"type":"quantitative","scale":{"domain":[-84.15,65.37],"nice":false,"zero":false}},"y2":{"datum":-75.15}}},
   {"data":{"name":"logoV"},"mark":{"type":"rect","color":"#d7262e"},"encoding":{"x":{"datum":10.74,"type":"quantitative","scale":{"domain":[-0.832,12.485],"nice":false,"zero":false}},"x2":{"datum":12.02},"y":{"datum":-75.42,"type":"quantitative","scale":{"domain":[-84.15,65.37],"nice":false,"zero":false}},"y2":{"datum":-78.15}}},
   {"data":{"name":"logoB"},"mark":{"type":"text","align":"center","baseline":"middle","color":"white","fontWeight":"bold","fontSize":9},"encoding":{"x":{"datum":11.38,"type":"quantitative","scale":{"domain":[-0.832,12.485],"nice":false,"zero":false}},"y":{"datum":-73.8,"type":"quantitative","scale":{"domain":[-84.15,65.37],"nice":false,"zero":false}},"text":{"field":"t"}}},
   {"data":{"name":"logoV"},"mark":{"type":"text","align":"center","baseline":"middle","color":"white","fontWeight":"bold","fontSize":9},"encoding":{"x":{"datum":11.38,"type":"quantitative","scale":{"domain":[-0.832,12.485],"nice":false,"zero":false}},"y":{"datum":-76.8,"type":"quantitative","scale":{"domain":[-84.15,65.37],"nice":false,"zero":false}},"text":{"field":"t"}}}
  ]}
]
}
